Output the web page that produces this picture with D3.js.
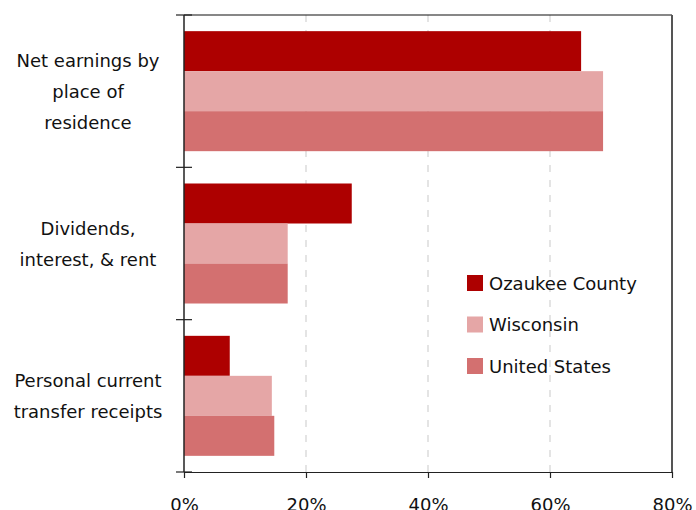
<!DOCTYPE html>
<html>
<head>
<meta charset="utf-8">
<script src="https://cdn.jsdelivr.net/npm/d3@7"></script>
<style>
  body { margin: 0; background: #fff; }
  svg text { font-family: "DejaVu Sans", sans-serif; fill: #111; }
</style>
</head>
<body>
<svg id="chart" width="696" height="510"></svg>
<script>
var categories = ["Net earnings by place of residence", "Dividends, interest, & rent", "Personal current transfer receipts"];
var categoryLines = [["Net earnings by", "place of", "residence"], ["Dividends,", "interest, & rent"], ["Personal current", "transfer receipts"]];
var seriesNames = ["Ozaukee County", "Wisconsin", "United States"];
var ozaukee = [65.1, 27.5, 7.5];
var wisconsin = [68.7, 17.0, 14.4];
var unitedStates = [68.7, 17.0, 14.8];
var xTicks = [0, 20, 40, 60, 80];

var colors = ["#ad0000", "#e5a6a6", "#d37070"];
var seriesValues = [ozaukee, wisconsin, unitedStates];

var svg = d3.select("#chart");
var plotLeft = 184, plotRight = 672, plotTop = 15, plotBottom = 472;

var x = d3.scaleLinear().domain([0, 80]).range([plotLeft, plotRight]);
var y = d3.scaleBand().domain(categories).range([plotTop, plotBottom]);
var ySub = d3.scaleBand().domain(seriesNames).range([0, y.bandwidth()]).paddingOuter(0.404);
var color = d3.scaleOrdinal().domain(seriesNames).range(colors);

// grid
svg.append("g")
  .selectAll("line")
  .data(xTicks.filter(function (d) { return d > 0 && d < 80; }))
  .join("line")
  .attr("x1", function (d) { return x(d); })
  .attr("x2", function (d) { return x(d); })
  .attr("y1", plotTop)
  .attr("y2", plotBottom)
  .attr("stroke", "#dcdcdc")
  .attr("stroke-width", 1.5)
  .attr("stroke-dasharray", "7,8");

// bars
var rows = [];
categories.forEach(function (c, i) {
  seriesNames.forEach(function (s, j) {
    rows.push({ cat: c, series: s, value: seriesValues[j][i] });
  });
});

svg.append("g")
  .selectAll("rect")
  .data(rows)
  .join("rect")
  .attr("x", x(0))
  .attr("y", function (d) { return y(d.cat) + ySub(d.series); })
  .attr("width", function (d) { return x(d.value) - x(0); })
  .attr("height", ySub.bandwidth())
  .attr("fill", function (d) { return color(d.series); });

// frame
svg.append("line").attr("x1", plotLeft).attr("x2", plotRight).attr("y1", plotTop).attr("y2", plotTop)
  .attr("stroke", "#111").attr("stroke-width", 1.2);
svg.append("line").attr("x1", plotRight).attr("x2", plotRight).attr("y1", plotTop).attr("y2", plotBottom)
  .attr("stroke", "#555").attr("stroke-width", 2);

// x axis
var xAxis = svg.append("g")
  .attr("transform", "translate(0," + plotBottom + ")")
  .call(d3.axisBottom(x).tickValues(xTicks).tickSize(6).tickSizeOuter(0)
    .tickFormat(function (d) { return d + "%"; }));
xAxis.select(".domain").attr("stroke", "#222").attr("stroke-width", 1.2);
xAxis.selectAll(".tick line").attr("stroke", "#222").attr("stroke-width", 1.2);
xAxis.selectAll(".tick text")
  .attr("y", 39)
  .attr("dy", 0)
  .style("font-family", "DejaVu Sans, sans-serif")
  .style("font-size", "18px")
  .attr("fill", "#111");

// y axis
svg.append("line").attr("x1", plotLeft).attr("x2", plotLeft).attr("y1", plotTop).attr("y2", plotBottom)
  .attr("stroke", "#222").attr("stroke-width", 1.5);
var boundaries = categories.map(function (c) { return y(c); }).concat([plotBottom]);
svg.append("g")
  .selectAll("line")
  .data(boundaries)
  .join("line")
  .attr("x1", plotLeft - 8)
  .attr("x2", plotLeft + 8)
  .attr("y1", function (d) { return d; })
  .attr("y2", function (d) { return d; })
  .attr("stroke", "#222")
  .attr("stroke-width", 1.2);

var lineGap = 31;
var labels = svg.append("g")
  .selectAll("text")
  .data(categories)
  .join("text")
  .attr("text-anchor", "middle")
  .style("font-size", "18px");
labels.each(function (c, i) {
  var lines = categoryLines[i];
  var cy = y(c) + y.bandwidth() / 2;
  var first = cy - (lines.length - 1) * lineGap / 2;
  d3.select(this).selectAll("tspan")
    .data(lines)
    .join("tspan")
    .attr("x", 88)
    .attr("y", function (d, k) { return first + k * lineGap + 6.5; })
    .text(function (d) { return d; });
});

// legend
var legend = svg.append("g")
  .selectAll("g")
  .data(seriesNames)
  .join("g")
  .attr("transform", function (d, i) { return "translate(467," + (275 + i * 41.5) + ")"; });
legend.append("rect")
  .attr("width", 16)
  .attr("height", 16)
  .attr("fill", function (d) { return color(d); });
legend.append("text")
  .attr("x", 22)
  .attr("y", 14.5)
  .style("font-size", "18px")
  .text(function (d) { return d; });
</script>
</body>
</html>
